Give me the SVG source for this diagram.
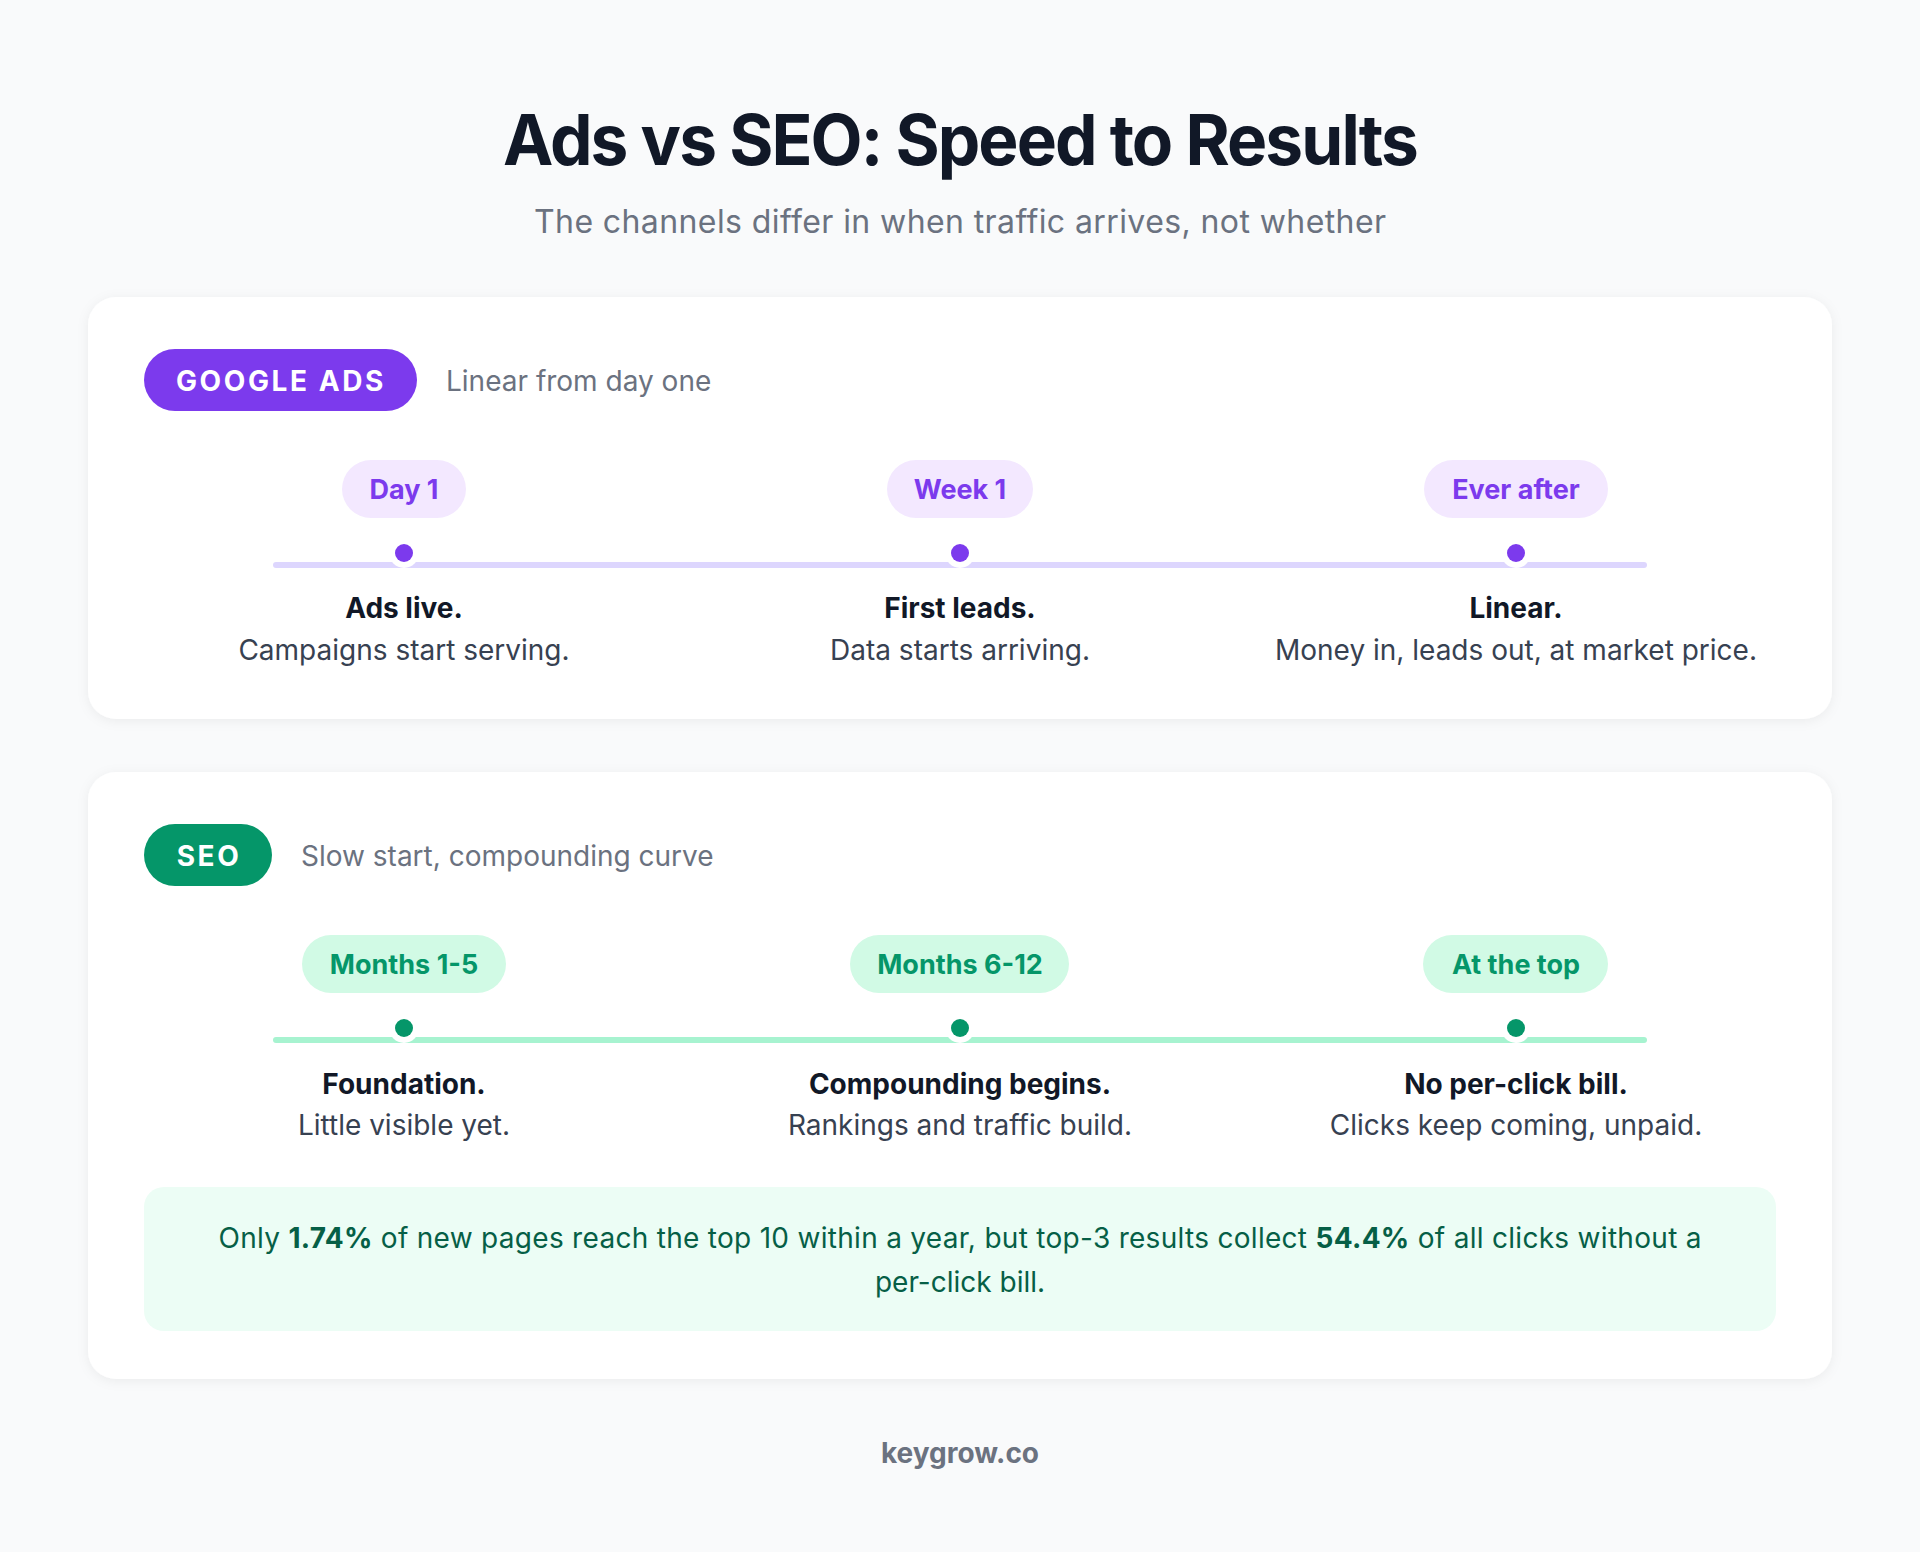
<svg xmlns="http://www.w3.org/2000/svg" width="1920" height="1552" viewBox="0 0 1920 1552">
  <defs>
    <filter id="shadow" x="-5%" y="-10%" width="110%" height="120%">
      <feDropShadow dx="0" dy="2" stdDeviation="6" flood-color="#0f172a" flood-opacity="0.06"/>
    </filter>
    <style>
      text { font-family: Inter, "DejaVu Sans", sans-serif; }
      .title { font-size: 70px; font-weight: 700; fill: #111827; letter-spacing: -2px; }
      .subtitle { font-size: 32px; font-weight: 400; fill: #6b7280; }
      .card { fill: #ffffff; filter: url(#shadow); }
      .tag { font-size: 28px; font-weight: 700; fill: #ffffff; letter-spacing: 2.6px; }
      .tagdesc { font-size: 28px; font-weight: 400; fill: #6b7280; }
      .pilltext { font-size: 27px; font-weight: 700; }
      .lbl { font-size: 28px; font-weight: 700; fill: #111827; }
      .desc { font-size: 28px; font-weight: 400; fill: #374151; }
      .ads .pill { fill: #f3e8ff; }
      .ads .pilltext { fill: #7c3aed; }
      .ads .dot { fill: #7c3aed; }
      .seo .pill { fill: #d1fae5; }
      .seo .pilltext { fill: #059669; }
      .seo .dot { fill: #059669; }
      .ring { fill: #ffffff; }
      .stat { font-size: 28px; font-weight: 400; fill: #065f46; }
      .stat .b { font-weight: 700; }
      .footer { font-size: 28px; font-weight: 700; fill: #6b7280; }
    </style>
  </defs>

  <rect x="0" y="0" width="1920" height="1552" fill="#f9fafb"/>

  <g id="header">
    <text class="title" x="960" y="165" text-anchor="middle" textLength="914" lengthAdjust="spacingAndGlyphs">Ads vs SEO: Speed to Results</text>
    <text class="subtitle" x="960" y="233" text-anchor="middle" textLength="852">The channels differ in when traffic arrives, not whether</text>
  </g>

  <!-- Google Ads card -->
  <g id="ads-card" class="ads">
    <rect class="card" x="88" y="297" width="1744" height="422" rx="28"/>
    <g id="ads-tag">
      <rect x="144" y="349" width="273" height="62" rx="31" fill="#7c3aed"/>
      <text class="tag" x="281" y="391" text-anchor="middle">GOOGLE ADS</text>
      <text class="tagdesc" x="446" y="391">Linear from day one</text>
    </g>
  </g>

  <!-- SEO card -->
  <g id="seo-card" class="seo">
    <rect class="card" x="88" y="772" width="1744" height="607" rx="28"/>
    <g id="seo-tag">
      <rect x="144" y="824" width="128" height="62" rx="31" fill="#059669"/>
      <text class="tag" x="209" y="866" text-anchor="middle">SEO</text>
      <text class="tagdesc" x="301" y="866">Slow start, compounding curve</text>
    </g>
  </g>

  <!-- connectors: timeline tracks -->
  <g id="connectors">
    <line x1="276" y1="565" x2="1644" y2="565" stroke="#ddd6fe" stroke-width="6" stroke-linecap="round"/>
    <line x1="276" y1="1040" x2="1644" y2="1040" stroke="#a7f3d0" stroke-width="6" stroke-linecap="round"/>
  </g>

  <!-- Ads milestones -->
  <g id="ads-day1" class="ads">
    <rect class="pill" x="342" y="460" width="124" height="58" rx="29"/>
    <text class="pilltext" x="404" y="499" text-anchor="middle">Day 1</text>
    <circle class="ring" cx="404" cy="553" r="15"/>
    <circle class="dot" cx="404" cy="553" r="9"/>
    <text class="lbl" x="404" y="618" text-anchor="middle">Ads live.</text>
    <text class="desc" x="404" y="660" text-anchor="middle">Campaigns start serving.</text>
  </g>
  <g id="ads-week1" class="ads">
    <rect class="pill" x="887" y="460" width="146" height="58" rx="29"/>
    <text class="pilltext" x="960" y="499" text-anchor="middle">Week 1</text>
    <circle class="ring" cx="960" cy="553" r="15"/>
    <circle class="dot" cx="960" cy="553" r="9"/>
    <text class="lbl" x="960" y="618" text-anchor="middle">First leads.</text>
    <text class="desc" x="960" y="660" text-anchor="middle">Data starts arriving.</text>
  </g>
  <g id="ads-ever" class="ads">
    <rect class="pill" x="1424" y="460" width="184" height="58" rx="29"/>
    <text class="pilltext" x="1516" y="499" text-anchor="middle">Ever after</text>
    <circle class="ring" cx="1516" cy="553" r="15"/>
    <circle class="dot" cx="1516" cy="553" r="9"/>
    <text class="lbl" x="1516" y="618" text-anchor="middle">Linear.</text>
    <text class="desc" x="1516" y="660" text-anchor="middle">Money in, leads out, at market price.</text>
  </g>

  <!-- SEO milestones -->
  <g id="seo-m1" class="seo">
    <rect class="pill" x="302" y="935" width="204" height="58" rx="29"/>
    <text class="pilltext" x="404" y="974" text-anchor="middle">Months 1-5</text>
    <circle class="ring" cx="404" cy="1028" r="15"/>
    <circle class="dot" cx="404" cy="1028" r="9"/>
    <text class="lbl" x="404" y="1094" text-anchor="middle">Foundation.</text>
    <text class="desc" x="404" y="1135" text-anchor="middle">Little visible yet.</text>
  </g>
  <g id="seo-m2" class="seo">
    <rect class="pill" x="850" y="935" width="219" height="58" rx="29"/>
    <text class="pilltext" x="960" y="974" text-anchor="middle">Months 6-12</text>
    <circle class="ring" cx="960" cy="1028" r="15"/>
    <circle class="dot" cx="960" cy="1028" r="9"/>
    <text class="lbl" x="960" y="1094" text-anchor="middle">Compounding begins.</text>
    <text class="desc" x="960" y="1135" text-anchor="middle">Rankings and traffic build.</text>
  </g>
  <g id="seo-top" class="seo">
    <rect class="pill" x="1423" y="935" width="185" height="58" rx="29"/>
    <text class="pilltext" x="1516" y="974" text-anchor="middle">At the top</text>
    <circle class="ring" cx="1516" cy="1028" r="15"/>
    <circle class="dot" cx="1516" cy="1028" r="9"/>
    <text class="lbl" x="1516" y="1094" text-anchor="middle">No per-click bill.</text>
    <text class="desc" x="1516" y="1135" text-anchor="middle">Clicks keep coming, unpaid.</text>
  </g>

  <g id="stat-box">
    <rect x="144" y="1187" width="1632" height="144" rx="20" fill="#ecfdf5"/>
    <text class="stat" x="960" y="1248" text-anchor="middle" textLength="1483">Only <tspan class="b">1.74%</tspan> of new pages reach the top 10 within a year, but top-3 results collect <tspan class="b">54.4%</tspan> of all clicks without a</text>
    <text class="stat" x="960" y="1292" text-anchor="middle">per-click bill.</text>
  </g>

  <g id="footer">
    <text class="footer" x="960" y="1463" text-anchor="middle">keygrow.co</text>
  </g>
</svg>
